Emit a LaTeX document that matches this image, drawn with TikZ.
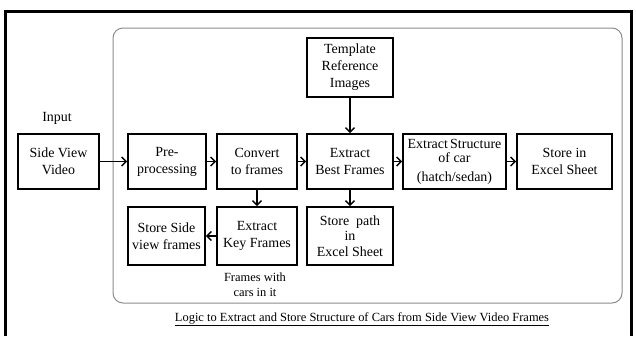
\documentclass[tikz,border=0pt]{standalone}
\usepackage{fontspec}
\setmainfont{Liberation Serif}
\usetikzlibrary{arrows.meta}
\begin{document}
\begin{tikzpicture}[x=1bp,y=-1bp,
  box/.style={draw=black, line width=1.8bp, align=center, inner sep=1bp,
    font=\fontsize{14}{17}\selectfont},
  flow/.style={draw=black, line width=1.4bp, -{Straight Barb[length=4.5bp,width=9bp]}},
  lbl/.style={align=center, inner sep=0pt}
]
\useasboundingbox (0,0) rectangle (636,336);
% outer frame
\draw[line width=3.5bp] (5.5,336) -- (5.5,11.5) -- (631.5,11.5) -- (631.5,336);
% inner rounded frame
\draw[draw=black!45, line width=1bp, rounded corners=10bp] (113,28) rectangle (622,303);

\node[box, minimum width=81bp, minimum height=55bp] (side) at (58.5,161.5) {Side View\\Video};
\node[lbl, font=\fontsize{14}{17}\selectfont] (input) at (57,118) {Input};
\node[box, minimum width=78bp, minimum height=55bp] (pre) at (167,161.5) {Pre-\\processing};
\node[box, minimum width=80bp, minimum height=55bp] (conv) at (257,161.5) {Convert\\to frames};
\node[box, minimum width=86bp, minimum height=55bp] (best) at (350,161.5) {Extract\\Best Frames};
\node[box, minimum width=86bp, minimum height=59bp] (tmpl) at (350,67.5) {Template\\Reference\\Images};
\node[box, minimum width=103bp, minimum height=55bp] (struct) at (454.5,161.5) {Extract\,Structure\\[-3bp]of car\\[2bp](hatch/sedan)};
\node[box, minimum width=95bp, minimum height=55bp] (excel) at (564.5,161.5) {Store in\\Excel Sheet};
\node[box, minimum width=77bp, minimum height=58bp] (sfr) at (166.5,236) {Store Side\\view frames};
\node[box, minimum width=80bp, minimum height=58bp] (key) at (257,236) {Extract\\Key Frames};
\node[box, minimum width=86bp, minimum height=58bp, font=\fontsize{14}{15.5}\selectfont] (path) at (350,236) {Store\ \ path\\in\\Excel Sheet};
\node[lbl, font=\fontsize{12.5}{15.5}\selectfont] (fw) at (255,285) {Frames with\\cars in it};
\node[lbl, font=\fontsize{12.5}{14}\selectfont] (cap) at (362,319) {\underline{Logic to Extract and Store Structure of Cars from Side View Video Frames}};

\draw[flow] (side) -- (pre);
\draw[flow] (pre) -- (conv);
\draw[flow] (conv) -- (best);
\draw[flow] (best) -- (struct);
\draw[flow] (struct) -- (excel);
\draw[flow] (tmpl) -- (best);
\draw[flow] (conv) -- (key);
\draw[flow] (key) -- (sfr);
\draw[flow] (best) -- (path);
\end{tikzpicture}
\end{document}
